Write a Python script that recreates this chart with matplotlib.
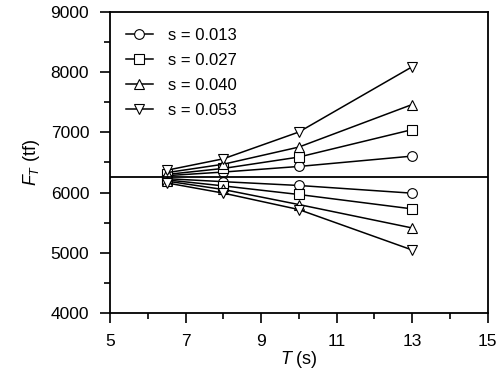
import matplotlib.pyplot as plt
import numpy as np
from matplotlib.ticker import MultipleLocator

plt.rcParams['font.family'] = ['Liberation Sans', 'DejaVu Sans']
plt.rcParams['mathtext.fontset'] = 'custom'
plt.rcParams['mathtext.it'] = 'Liberation Sans:italic'
plt.rcParams['mathtext.rm'] = 'Liberation Sans'

T = [6.5, 8, 10, 13]
labels = ['s = 0.013', 's = 0.027', 's = 0.040', 's = 0.053']
markers = ['o', 's', '^', 'v']
# upper and lower branches of F_T for each s
upper = [[6280, 6340, 6433, 6605],
         [6300, 6400, 6589, 7045],
         [6330, 6470, 6755, 7462],
         [6370, 6560, 7005, 8089]]
lower = [[6230, 6180, 6117, 5989],
         [6210, 6110, 5967, 5728],
         [6190, 6050, 5800, 5411],
         [6160, 5990, 5717, 5045]]
F_ref = 6255

fig = plt.figure(figsize=(5, 3.9), dpi=100)
ax = fig.add_axes([0.22, 0.198, 0.755, 0.771])

for i in range(4):
    ax.plot(T, upper[i], color='black', lw=1.1, marker=markers[i], ms=7,
            mfc='white', mec='black', mew=0.8, label=labels[i])
    ax.plot(T, lower[i], color='black', lw=1.1, marker=markers[i], ms=7,
            mfc='white', mec='black', mew=0.8)

ax.axhline(F_ref, color='black', lw=1.3)

ax.set_xlim(5, 15)
ax.set_ylim(4000, 9000)
ax.set_xticks([5, 7, 9, 11, 13, 15])
ax.xaxis.set_minor_locator(MultipleLocator(1))
ax.yaxis.set_major_locator(MultipleLocator(1000))
ax.yaxis.set_minor_locator(MultipleLocator(500))
ax.tick_params(which='both', direction='out', top=False, right=False,
               labelsize=12.5, width=1.2)
ax.tick_params(which='major', length=7, pad=8)
ax.tick_params(which='minor', length=4)
for sp in ax.spines.values():
    sp.set_linewidth(1.3)

ax.set_xlabel(r'$T$ (s)', fontsize=13, labelpad=0)
ax.set_ylabel(r'$F_T$ (tf)', fontsize=13, labelpad=6)

ax.legend(loc='upper left', frameon=False, fontsize=12, handlelength=1.6,
          labelspacing=0.6, borderaxespad=0.55, handletextpad=0.95)

plt.savefig('out.png', dpi=100)
